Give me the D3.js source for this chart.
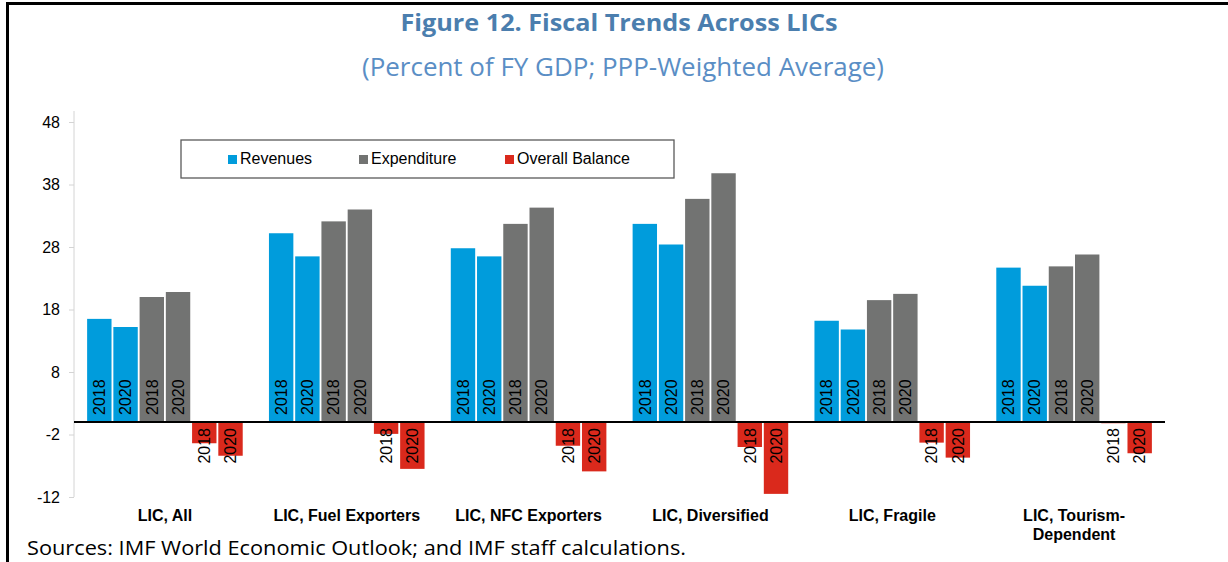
<!DOCTYPE html>
<html>
<head>
<meta charset="utf-8">
<script src="https://cdnjs.cloudflare.com/ajax/libs/d3/7.8.5/d3.min.js"></script>
<style>
	html, body { margin: 0; padding: 0; background: #fff; }
	svg { display: block; }
</style>
</head>
<body>
<div id="chart"></div>
<script>
// values (percent of GDP)
var groups = ['LIC, All', 'LIC, Fuel Exporters', 'LIC, NFC Exporters', 'LIC, Diversified', 'LIC, Fragile', 'LIC, Tourism-\nDependent'];
var revenues2018 = [16.5, 30.2, 27.8, 31.7, 16.2, 24.7];
var revenues2020 = [15.2, 26.5, 26.5, 28.4, 14.8, 21.8];
var expenditure2018 = [20.0, 32.1, 31.7, 35.7, 19.5, 24.9];
var expenditure2020 = [20.8, 34.0, 34.3, 39.8, 20.5, 26.8];
var balance2018 = [-3.4, -1.9, -3.8, -4.0, -3.3, -0.2];
var balance2020 = [-5.4, -7.5, -7.9, -11.5, -5.7, -5.0];
var yTicks = [-12, -2, 8, 18, 28, 38, 48];
var seriesNames = ['Revenues', 'Expenditure', 'Overall Balance'];

var colors = { 'Revenues': '#009cdc', 'Expenditure': '#727372', 'Overall Balance': '#da291c' };

// one slot per bar inside every group
var slots = [
	{ key: 'r18', series: 'Revenues', year: '2018', values: revenues2018 },
	{ key: 'r20', series: 'Revenues', year: '2020', values: revenues2020 },
	{ key: 'e18', series: 'Expenditure', year: '2018', values: expenditure2018 },
	{ key: 'e20', series: 'Expenditure', year: '2020', values: expenditure2020 },
	{ key: 'b18', series: 'Overall Balance', year: '2018', values: balance2018 },
	{ key: 'b20', series: 'Overall Balance', year: '2020', values: balance2020 }
];

var width = 1228, height = 562;
var margin = { left: 74, right: 63, top: 122, bottom: 65 };

var svg = d3.select('#chart').append('svg')
	.attr('width', width)
	.attr('height', height);

// frame (top and left rules)
svg.append('line')
	.attr('x1', 6).attr('x2', width).attr('y1', 3.5).attr('y2', 3.5)
	.attr('stroke', '#000').attr('stroke-width', 3);
svg.append('line')
	.attr('x1', 7.5).attr('x2', 7.5).attr('y1', 2).attr('y2', height)
	.attr('stroke', '#000').attr('stroke-width', 3);

// titles
svg.append('text')
	.attr('x', 619).attr('y', 31)
	.attr('text-anchor', 'middle')
	.attr('font-family', 'Open Sans, sans-serif')
	.attr('font-weight', 'bold')
	.attr('font-size', 24)
	.attr('fill', '#4b7eae')
	.attr('textLength', 437)
	.attr('lengthAdjust', 'spacingAndGlyphs')
	.text('Figure 12. Fiscal Trends Across LICs');
svg.append('text')
	.attr('x', 623).attr('y', 76)
	.attr('text-anchor', 'middle')
	.attr('font-family', 'Open Sans, sans-serif')
	.attr('font-size', 26)
	.attr('fill', '#5a8ec5')
	.attr('textLength', 522)
	.attr('lengthAdjust', 'spacingAndGlyphs')
	.text('(Percent of FY GDP; PPP-Weighted Average)');

// scales
var x0 = d3.scaleBand()
	.domain(groups)
	.range([margin.left, width - margin.right])
	.paddingInner(0)
	.paddingOuter(0);
var x1 = d3.scaleBand()
	.domain(slots.map(function(s) { return s.key; }))
	.range([0, x0.bandwidth()])
	.paddingInner(0.07)
	.paddingOuter(0.5);
var y = d3.scaleLinear()
	.domain([-12, 48])
	.range([height - margin.bottom, margin.top]);

// y axis
var yAxis = svg.append('g')
	.attr('transform', 'translate(' + margin.left + ',0)')
	.call(d3.axisLeft(y)
		.tickValues(yTicks)
		.tickFormat(function(d) { return String(d); })
		.tickSize(5).tickPadding(9).tickSizeOuter(0));
yAxis.select('.domain')
	.attr('d', 'M0,' + (margin.top - 11) + 'V' + y(-12))
	.attr('stroke', '#d4d4d4');
yAxis.selectAll('.tick line').attr('stroke', '#d4d4d4');
yAxis.selectAll('.tick text')
	.attr('font-family', 'Liberation Sans, Arial, sans-serif')
	.attr('font-size', 16)
	.attr('fill', '#000');

// bars
var bars = [];
groups.forEach(function(g, i) {
	slots.forEach(function(s) {
		bars.push({ group: g, key: s.key, series: s.series, year: s.year, value: s.values[i] });
	});
});

svg.append('g').selectAll('rect')
	.data(bars)
	.enter().append('rect')
	.attr('x', function(d) { return x0(d.group) + x1(d.key); })
	.attr('width', x1.bandwidth())
	.attr('y', function(d) { return y(Math.max(0, d.value)); })
	.attr('height', function(d) { return Math.abs(y(d.value) - y(0)); })
	.attr('fill', function(d) { return colors[d.series]; });

// zero line
svg.append('line')
	.attr('x1', margin.left).attr('x2', width - margin.right)
	.attr('y1', y(0)).attr('y2', y(0))
	.attr('stroke', '#000').attr('stroke-width', 2);

// year labels, rotated, sitting on the zero line
svg.append('g').selectAll('text')
	.data(bars)
	.enter().append('text')
	.attr('transform', function(d) {
		var cx = x0(d.group) + x1(d.key) + x1.bandwidth() / 2;
		var cy = d.value >= 0 ? y(0) - 7 : y(0) + 6;
		return 'translate(' + cx + ',' + cy + ') rotate(-90)';
	})
	.attr('dy', '0.36em')
	.attr('text-anchor', function(d) { return d.value >= 0 ? 'start' : 'end'; })
	.attr('font-family', 'Liberation Sans, Arial, sans-serif')
	.attr('font-size', 16)
	.attr('fill', '#000')
	.text(function(d) { return d.year; });

// category labels
var cat = svg.append('g').selectAll('text')
	.data(groups)
	.enter().append('text')
	.attr('x', function(d) { return x0(d) + x0.bandwidth() / 2; })
	.attr('y', 521)
	.attr('text-anchor', 'middle')
	.attr('font-family', 'Liberation Sans, Arial, sans-serif')
	.attr('font-weight', 'bold')
	.attr('font-size', 16)
	.attr('fill', '#000');
cat.each(function(d) {
	var el = d3.select(this);
	d.split('\n').forEach(function(line, k) {
		el.append('tspan')
			.attr('x', x0(d) + x0.bandwidth() / 2)
			.attr('dy', k === 0 ? 0 : 19)
			.text(line);
	});
});

// legend
var legend = svg.append('g');
legend.append('rect')
	.attr('x', 181).attr('y', 140)
	.attr('width', 493).attr('height', 38)
	.attr('fill', '#fff')
	.attr('stroke', '#5a5a5a')
	.attr('stroke-width', 1.3);
var legendX = [228, 359, 505];
seriesNames.forEach(function(name, i) {
	legend.append('rect')
		.attr('x', legendX[i]).attr('y', 155)
		.attr('width', 9).attr('height', 9)
		.attr('fill', colors[name]);
	legend.append('text')
		.attr('x', legendX[i] + 12).attr('y', 164)
		.attr('font-family', 'Liberation Sans, Arial, sans-serif')
		.attr('font-size', 16)
		.attr('fill', '#000')
		.text(name);
});

// source note
svg.append('text')
	.attr('x', 27).attr('y', 555)
	.attr('font-family', 'Open Sans, sans-serif')
	.attr('font-size', 20)
	.attr('fill', '#000')
	.attr('textLength', 659)
	.attr('lengthAdjust', 'spacingAndGlyphs')
	.text('Sources: IMF World Economic Outlook; and IMF staff calculations.');
</script>
</body>
</html>
